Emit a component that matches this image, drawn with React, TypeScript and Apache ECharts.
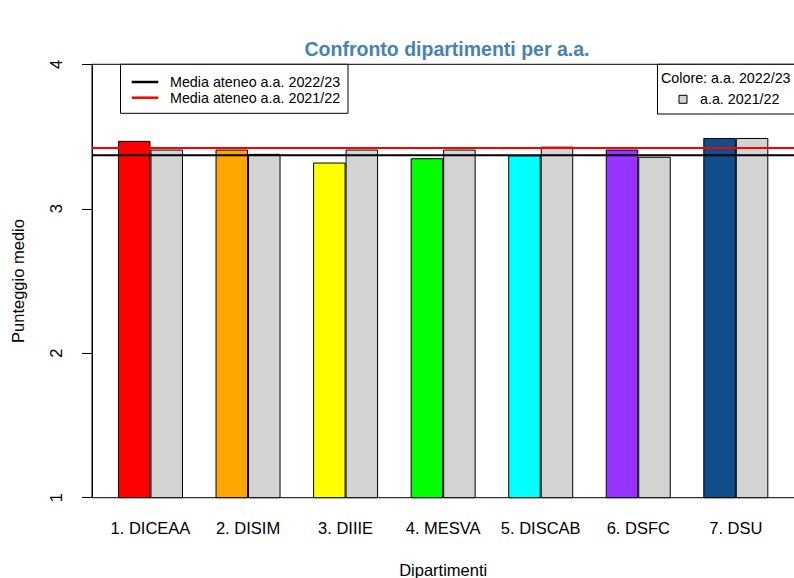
import React, { useEffect, useRef } from "react";
import * as echarts from "echarts";

const categories = ["1. DICEAA", "2. DISIM", "3. DIIIE", "4. MESVA", "5. DISCAB", "6. DSFC", "7. DSU"];
const values2223 = [3.47, 3.41, 3.32, 3.35, 3.37, 3.41, 3.49];
const values2122 = [3.41, 3.38, 3.41, 3.41, 3.43, 3.36, 3.49];
const deptColors = ["#FF0000", "#FFA500", "#FFFF00", "#00FF00", "#00FFFF", "#9933FF", "#104E8B"];
const mean2223 = 3.37;
const mean2122 = 3.42;
const yTicks = [1, 2, 3, 4];

const FONT = "'Liberation Sans', Arial, Helvetica, sans-serif";

export default function App() {
  const ref = useRef<HTMLDivElement>(null);
  useEffect(() => {
    if (!ref.current) return;
    const chart = echarts.init(ref.current, undefined, { renderer: "svg" });
    const gridTop = 64.3;
    const gridHeight = 433.4;
    chart.setOption({
      animation: false,
      backgroundColor: "#FFFFFF",
      textStyle: { fontFamily: FONT },
      title: {
        text: "Confronto dipartimenti per a.a.",
        left: 442,
        top: 34,
        textAlign: "center",
        textStyle: { color: "#4682B4", fontSize: 19.5, fontWeight: "bold", fontFamily: FONT },
      },
      grid: [
        { left: 101.7, top: gridTop, width: 682.9, height: gridHeight, containLabel: false, outerBoundsMode: "none" },
        {
          left: 92, top: gridTop, width: 704, height: gridHeight, show: true,
          borderColor: "#000", borderWidth: 1, backgroundColor: "transparent", containLabel: false,
          outerBoundsMode: "none",
        },
      ],
      xAxis: [
        {
          type: "category", gridIndex: 0, data: categories,
          axisLine: { show: false }, axisTick: { show: false }, splitLine: { show: false },
          axisLabel: { color: "#000", fontSize: 16.5, margin: 22, fontFamily: FONT, interval: 0 },
          name: "Dipartimenti", nameLocation: "middle", nameGap: 64,
          nameTextStyle: { color: "#000", fontSize: 16.5, fontFamily: FONT },
        },
        { type: "value", gridIndex: 1, min: 0, max: 1, show: false },
      ],
      yAxis: [
        { type: "value", gridIndex: 0, min: yTicks[0], max: yTicks[yTicks.length - 1], interval: 1, show: false },
        {
          type: "value", gridIndex: 1, min: yTicks[0], max: yTicks[yTicks.length - 1], interval: 1, offset: 7,
          axisLine: { show: true, lineStyle: { color: "#000", width: 1 } },
          axisTick: { show: true, length: 10, inside: false, lineStyle: { color: "#000" } },
          splitLine: { show: false },
          axisLabel: { color: "#000", fontSize: 16.5, rotate: 90, margin: 21, fontFamily: FONT },
          name: "Punteggio medio", nameLocation: "middle", nameGap: 59, nameRotate: 90,
          nameTextStyle: { color: "#000", fontSize: 16.5, fontFamily: FONT },
        },
      ],
      series: [
        {
          name: "a.a. 2022/23", type: "bar", xAxisIndex: 0, yAxisIndex: 0,
          barWidth: 32.5, barGap: "0%",
          data: values2223.map((v, i) => ({ value: v, itemStyle: { color: deptColors[i] } })),
          itemStyle: { borderColor: "#000", borderWidth: 1 },
          z: 2,
        },
        {
          name: "a.a. 2021/22", type: "bar", xAxisIndex: 0, yAxisIndex: 0,
          barWidth: 32.5, barGap: "0%",
          data: values2122,
          itemStyle: { color: "#D3D3D3", borderColor: "#000", borderWidth: 1 },
          z: 2,
        },
        {
          name: "Media ateneo a.a. 2022/23", type: "line", xAxisIndex: 1, yAxisIndex: 1,
          data: [[0, mean2223], [1, mean2223]], symbol: "none",
          lineStyle: { color: "#000", width: 2 }, z: 5,
        },
        {
          name: "Media ateneo a.a. 2021/22", type: "line", xAxisIndex: 1, yAxisIndex: 1,
          data: [[0, mean2122], [1, mean2122]], symbol: "none",
          lineStyle: { color: "#FF0000", width: 2 }, z: 5,
        },
      ],
      graphic: [
        {
          type: "rect", z: 10, shape: { x: 120.5, y: 64.3, width: 227.5, height: 49 },
          style: { fill: "#fff", stroke: "#000", lineWidth: 1 },
        },
        { type: "line", z: 11, shape: { x1: 131.7, y1: 82, x2: 158.3, y2: 82 }, style: { stroke: "#000", lineWidth: 2.5 } },
        { type: "line", z: 11, shape: { x1: 131.7, y1: 97.7, x2: 158.3, y2: 97.7 }, style: { stroke: "#FF0000", lineWidth: 2.5 } },
        {
          type: "text", z: 11, x: 170, y: 82,
          style: { text: "Media ateneo a.a. 2022/23", fill: "#000", font: `14.3px ${FONT}`, verticalAlign: "middle" },
        },
        {
          type: "text", z: 11, x: 170, y: 97.7,
          style: { text: "Media ateneo a.a. 2021/22", fill: "#000", font: `14.3px ${FONT}`, verticalAlign: "middle" },
        },
        {
          type: "rect", z: 10, shape: { x: 657.5, y: 64.3, width: 150, height: 49.7 },
          style: { fill: "#fff", stroke: "#000", lineWidth: 1 },
        },
        {
          type: "text", z: 11, x: 661, y: 78,
          style: { text: "Colore: a.a. 2022/23", fill: "#000", font: `14.3px ${FONT}`, verticalAlign: "middle" },
        },
        {
          type: "rect", z: 11, shape: { x: 679, y: 95.3, width: 8, height: 8 },
          style: { fill: "#D3D3D3", stroke: "#000", lineWidth: 1 },
        },
        {
          type: "text", z: 11, x: 700, y: 99.3,
          style: { text: "a.a. 2021/22", fill: "#000", font: `14.3px ${FONT}`, verticalAlign: "middle" },
        },
      ],
    });
    return () => chart.dispose();
  }, []);
  return (
    <div
      ref={ref}
      style={{ position: "fixed", left: 0, top: 0, width: 794, height: 578, background: "#fff" }}
    />
  );
}
